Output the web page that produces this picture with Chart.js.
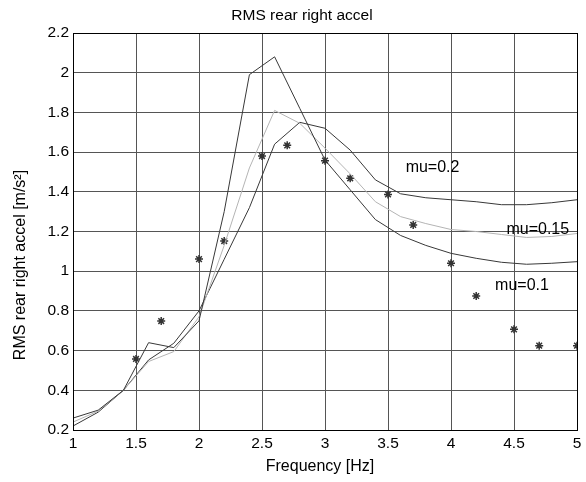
<!DOCTYPE html>
<html>
<head>
<meta charset="utf-8">
<script src="https://cdn.jsdelivr.net/npm/chart.js@4/dist/chart.umd.min.js"></script>
<style>
  html, body { margin: 0; padding: 0; background: #fff; }
</style>
</head>
<body>
<canvas id="rmsChart" width="586" height="482"></canvas>
<script>
// simulated curves, one value per frequency step
const freqs = [1.0, 1.2, 1.4, 1.6, 1.8, 2.0, 2.2, 2.4, 2.6, 2.8, 3.0, 3.2, 3.4, 3.6, 3.8, 4.0, 4.2, 4.4, 4.6, 4.8, 5.0];
const rmsMu01 = [0.26, 0.30, 0.40, 0.64, 0.615, 0.75, 1.30, 1.99, 2.08, 1.82, 1.56, 1.41, 1.26, 1.18, 1.13, 1.09, 1.065, 1.045, 1.035, 1.04, 1.048];
const rmsMu015 = [0.24, 0.295, 0.40, 0.545, 0.595, 0.77, 1.13, 1.52, 1.81, 1.745, 1.62, 1.49, 1.35, 1.275, 1.24, 1.21, 1.20, 1.185, 1.17, 1.175, 1.19];
const rmsMu02 = [0.22, 0.29, 0.40, 0.553, 0.637, 0.80, 1.06, 1.32, 1.64, 1.75, 1.72, 1.61, 1.46, 1.39, 1.37, 1.36, 1.35, 1.335, 1.335, 1.345, 1.36];

// measured points (stars)
const measFreqs = [1.5, 1.7, 2.0, 2.2, 2.5, 2.7, 3.0, 3.2, 3.5, 3.7, 4.0, 4.2, 4.5, 4.7, 5.0];
const measRms = [0.558, 0.749, 1.061, 1.152, 1.58, 1.634, 1.557, 1.468, 1.387, 1.233, 1.04, 0.875, 0.707, 0.625, 0.625];

const xTicks = [1, 1.5, 2, 2.5, 3, 3.5, 4, 4.5, 5];
const yTicks = [0.2, 0.4, 0.6, 0.8, 1, 1.2, 1.4, 1.6, 1.8, 2, 2.2];

// curve annotations
const curveNames = ["mu=0.2", "mu=0.15", "mu=0.1"];
const nameFreqs = [3.64, 4.44, 4.35];
const nameRms = [1.52, 1.21, 0.93];

const titleText = "RMS rear right accel";
const xLabel = "Frequency [Hz]";
const yLabel = "RMS rear right accel [m/s²]";

const FONT = "'Liberation Sans', Arial, sans-serif";
const toPoints = (xs, ys) => xs.map((x, i) => ({ x: x, y: ys[i] }));

const textAndFrame = {
  id: "textAndFrame",
  afterDatasetsDraw(chart) {
    const { ctx, chartArea, scales } = chart;
    ctx.save();
    ctx.fillStyle = "#000";
    ctx.font = "16px " + FONT;
    ctx.textBaseline = "middle";

    // curve names
    ctx.textAlign = "left";
    curveNames.forEach((name, i) => {
      ctx.fillText(name, scales.x.getPixelForValue(nameFreqs[i]), scales.y.getPixelForValue(nameRms[i]));
    });

    // title + axis labels (placed like the original figure)
    ctx.textAlign = "center";
    ctx.font = "15.5px " + FONT;
    ctx.fillText(titleText, 302, 16);
    ctx.font = "16px " + FONT;
    ctx.fillText(xLabel, 320, 467);
    ctx.save();
    ctx.translate(21, 265);
    ctx.rotate(-Math.PI / 2);
    ctx.fillText(yLabel, 0, 0);
    ctx.restore();

    // box round the axes
    ctx.strokeStyle = "#000";
    ctx.lineWidth = 1;
    const l = Math.round(chartArea.left) + 0.5;
    const t = Math.round(chartArea.top) + 0.5;
    const r = Math.round(chartArea.right) + 0.5;
    const b = Math.round(chartArea.bottom) + 0.5;
    ctx.strokeRect(l, t, r - l, b - t);
    ctx.restore();
  },
};

const lineSet = (label, data, color) => ({
  label: label,
  data: toPoints(freqs, data),
  showLine: true,
  borderColor: color,
  borderWidth: 1,
  pointRadius: 0,
  tension: 0,
});

new Chart(document.getElementById("rmsChart"), {
  type: "scatter",
  data: {
    datasets: [
      lineSet("mu=0.1", rmsMu01, "#383838"),
      lineSet("mu=0.15", rmsMu015, "#b4b4b4"),
      lineSet("mu=0.2", rmsMu02, "#383838"),
      {
        label: "measured",
        data: toPoints(measFreqs, measRms),
        showLine: false,
        pointStyle: "star",
        pointRadius: 4,
        borderColor: "#333",
        backgroundColor: "#333",
        borderWidth: 1.5,
      },
    ],
  },
  options: {
    responsive: false,
    animation: false,
    layout: { padding: { top: 33, right: 9, bottom: 0, left: 0 } },
    plugins: {
      legend: { display: false },
      tooltip: { enabled: false },
      title: { display: false },
    },
    scales: {
      x: {
        type: "linear",
        min: 1,
        max: 5,
        afterBuildTicks: (s) => { s.ticks = xTicks.map((v) => ({ value: v })); },
        afterFit: (s) => { s.height = 52; },
        ticks: {
          color: "#000",
          font: { family: FONT, size: 15.5 },
          padding: 4,
          maxRotation: 0,
          callback: (v) => String(v),
        },
        grid: { color: "#555", lineWidth: 1, drawTicks: false },
        border: { color: "#000", width: 1 },
      },
      y: {
        type: "linear",
        min: 0.2,
        max: 2.2,
        afterBuildTicks: (s) => { s.ticks = yTicks.map((v) => ({ value: v })); },
        afterFit: (s) => { s.width = 73; },
        ticks: {
          color: "#000",
          font: { family: FONT, size: 15.5 },
          padding: 4,
          callback: (v) => String(v),
        },
        grid: { color: "#555", lineWidth: 1, drawTicks: false },
        border: { color: "#000", width: 1 },
      },
    },
  },
  plugins: [textAndFrame],
});
</script>
</body>
</html>
